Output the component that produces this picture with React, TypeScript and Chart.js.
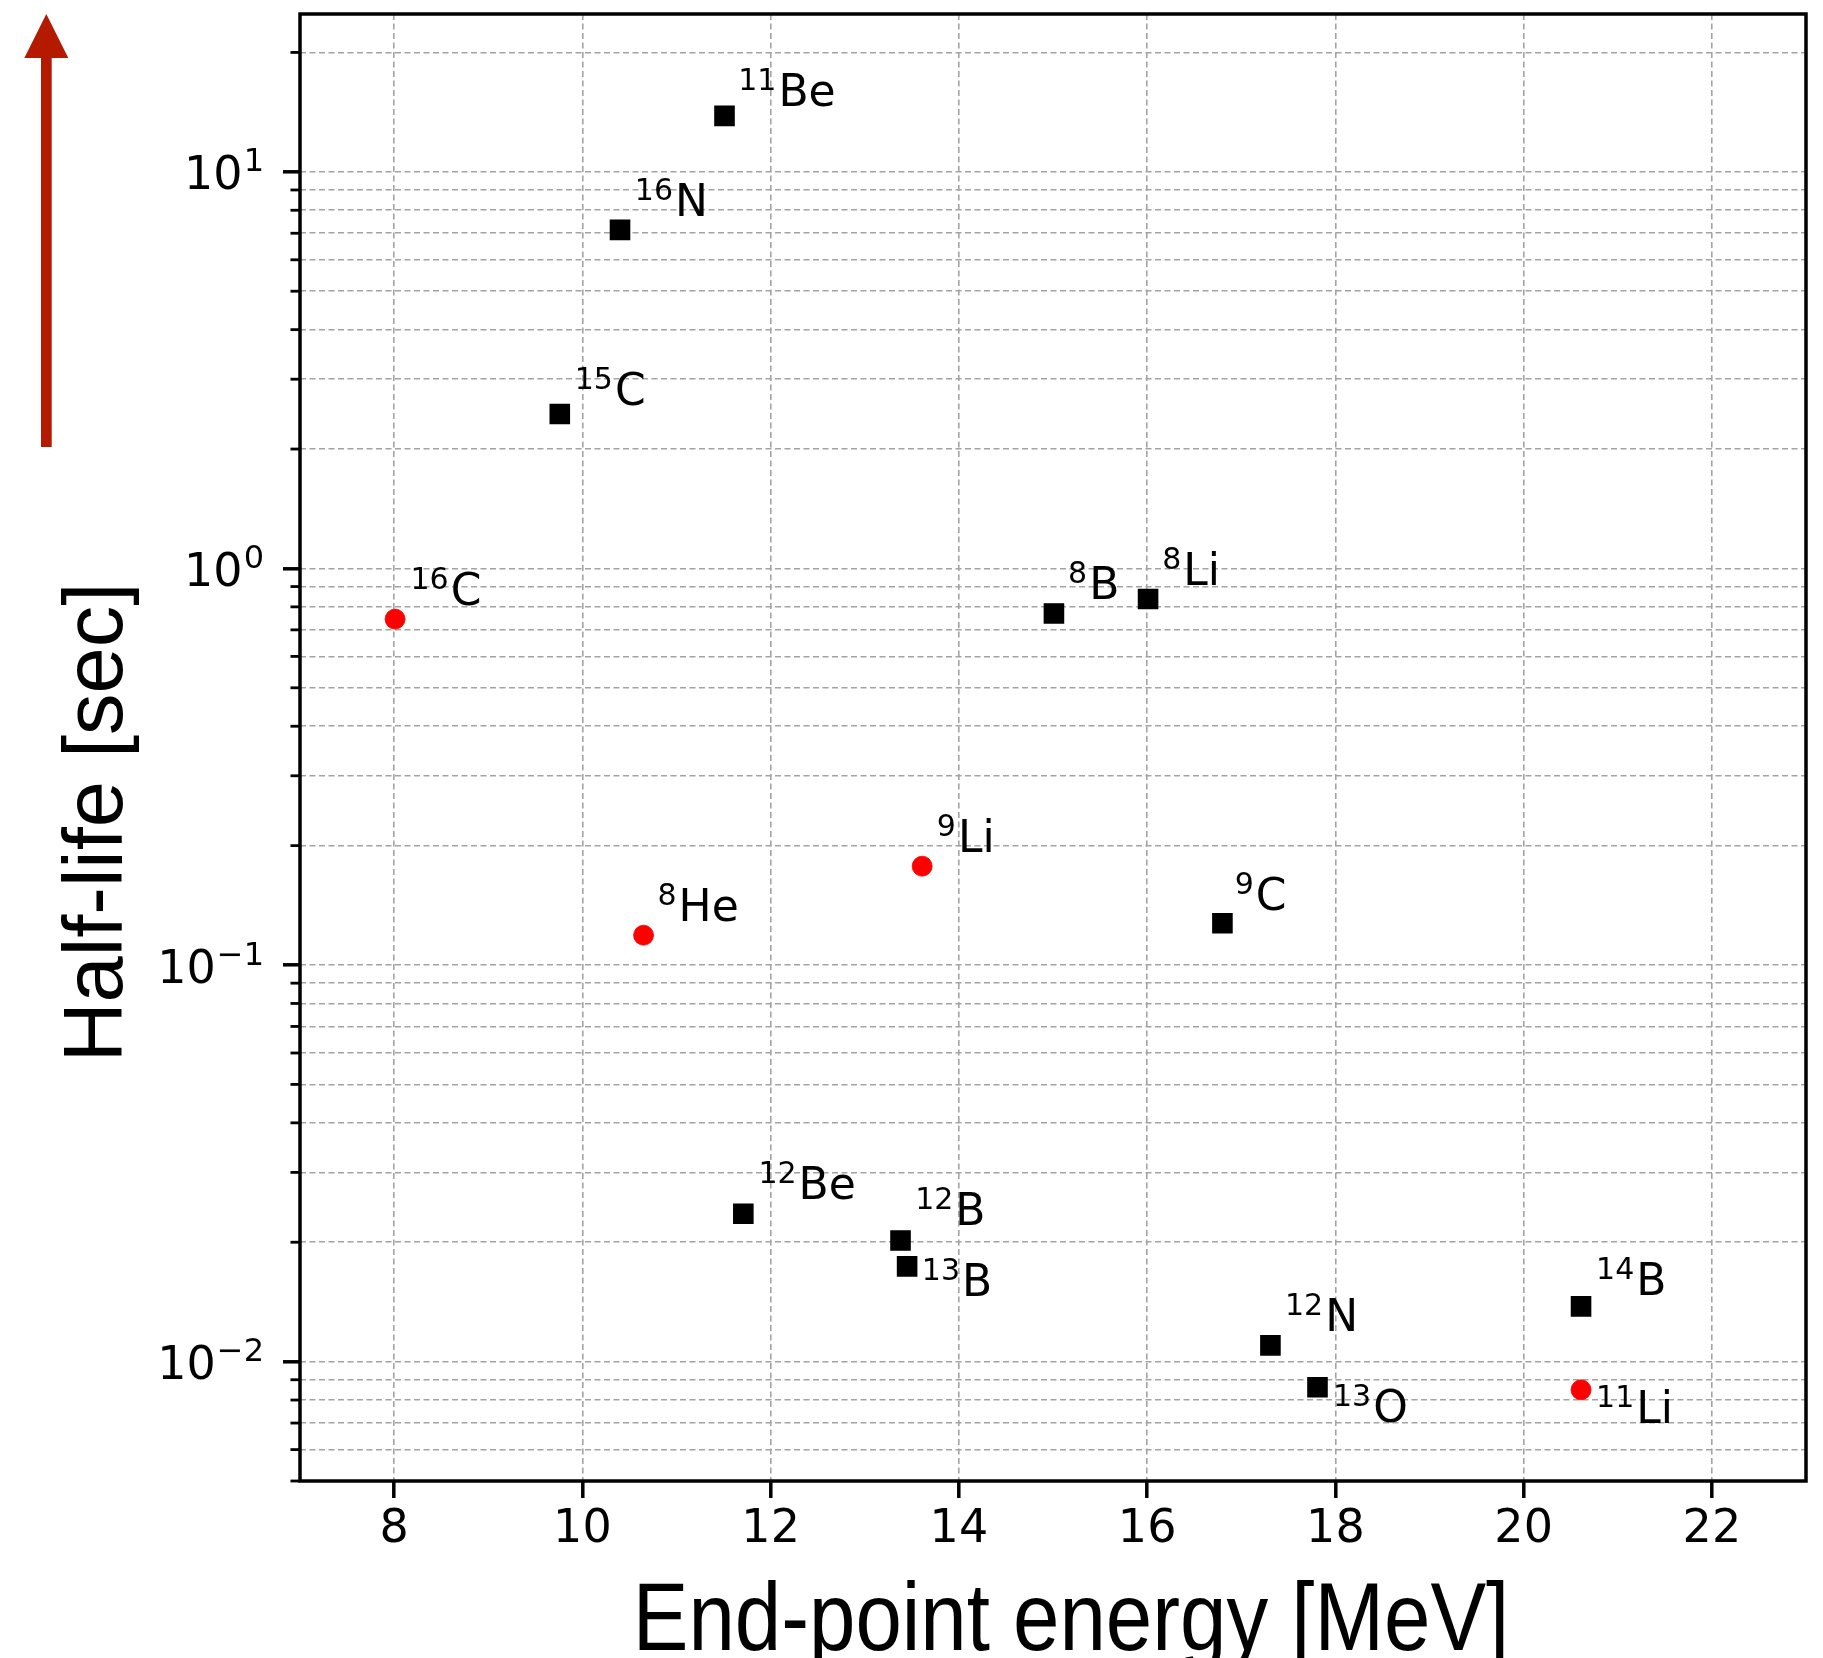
import React, { useEffect, useRef } from 'react';
import { Chart, registerables } from 'chart.js';

Chart.register(...registerables);

// ---- data ----
const MASS_NUMBERS = ['11', '16', '15', '16', '8', '8', '9', '8', '9', '12', '12', '13', '12', '13', '14', '11'];
const ELEMENTS = ['Be', 'N', 'C', 'C', 'B', 'Li', 'Li', 'He', 'C', 'Be', 'B', 'B', 'N', 'O', 'B', 'Li'];
const ENDPOINT_ENERGY_MEV = [11.51, 10.4, 9.76, 8.01, 15.01, 16.01, 13.61, 10.65, 16.8, 11.71, 13.38, 13.45, 17.31, 17.81, 20.61, 20.61];
const HALF_LIFE_SEC = [13.84, 7.14, 2.45, 0.745, 0.77, 0.837, 0.1775, 0.1189, 0.1274, 0.0236, 0.0202, 0.01738, 0.01099, 0.00862, 0.01378, 0.00849];
const MARKER_GROUP = ['square', 'square', 'square', 'circle', 'square', 'square', 'circle', 'circle', 'square', 'square', 'square', 'square', 'square', 'square', 'square', 'circle'];
// annotation anchor of each label (data coordinates: left edge, text baseline)
const LABEL_ENERGY = [11.656, 10.557, 9.919, 8.174, 15.16, 16.16, 13.766, 10.798, 16.93, 11.87, 13.536, 13.606, 17.465, 17.975, 20.77, 20.77];
const LABEL_HALF_LIFE = [14.68, 7.74, 2.59, 0.808, 0.836, 0.908, 0.1922, 0.1292, 0.138, 0.02576, 0.02215, 0.0146, 0.01192, 0.00704, 0.01469, 0.007];

const X_TICKS = [8, 10, 12, 14, 16, 18, 20, 22];
const X_MIN = 7;
const X_MAX = 23;
const Y_MIN = 0.005;
const Y_MAX = 25;
const Y_DECADES = [-3, -2, -1, 0, 1];
const Y_MULTIPLIERS = [1, 2, 3, 4, 5, 6, 7, 8, 9];

const X_TITLE = 'End-point energy [MeV]';
const Y_TITLE = 'Half-life [sec]';

const TICK_FONT = '"DejaVu Sans", sans-serif';
const TITLE_FONT = '"Liberation Sans", Arial, sans-serif';

function buildYTicks() {
  const out: { value: number; major: boolean }[] = [];
  for (const e of Y_DECADES) {
    for (const m of Y_MULTIPLIERS) {
      const v = parseFloat((m * Math.pow(10, e)).toPrecision(4));
      if (v >= Y_MIN - 1e-12 && v <= Y_MAX) out.push({ value: v, major: m === 1 });
    }
  }
  return out;
}

const decorPlugin = {
  id: 'decor',
  beforeDraw(chart: any) {
    const ctx = chart.ctx;
    ctx.save();
    ctx.fillStyle = '#ffffff';
    ctx.fillRect(0, 0, chart.width, chart.height);
    ctx.restore();
  },
  afterDatasetsDraw(chart: any) {
    const ctx = chart.ctx;
    const xs = chart.scales.x;
    const ys = chart.scales.y;
    ctx.save();
    ctx.fillStyle = '#000';
    ctx.textBaseline = 'alphabetic';
    ctx.textAlign = 'left';
    for (let i = 0; i < MASS_NUMBERS.length; i++) {
      const px = xs.getPixelForValue(LABEL_ENERGY[i]);
      const py = ys.getPixelForValue(LABEL_HALF_LIFE[i]);
      ctx.font = `30px ${TICK_FONT}`;
      ctx.fillText(MASS_NUMBERS[i], px, py - 16);
      const w = ctx.measureText(MASS_NUMBERS[i]).width;
      ctx.font = `44px ${TICK_FONT}`;
      ctx.fillText(ELEMENTS[i], px + w + 2, py);
    }
    ctx.restore();
  },
  afterDraw(chart: any) {
    const ctx = chart.ctx;
    const a = chart.chartArea;
    const ys = chart.scales.y;
    ctx.save();
    // minor y tick marks
    ctx.strokeStyle = '#000';
    ctx.lineWidth = 2.8;
    ctx.setLineDash([]);
    for (const t of ys.ticks) {
      if (t.major) continue;
      const y = ys.getPixelForValue(t.value);
      ctx.beginPath();
      ctx.moveTo(a.left, y);
      ctx.lineTo(a.left - 9.5, y);
      ctx.stroke();
    }
    // frame
    ctx.lineWidth = 3.5;
    ctx.strokeRect(a.left, a.top, a.right - a.left, a.bottom - a.top);

    // y tick labels 10^n
    ctx.fillStyle = '#000';
    ctx.textAlign = 'left';
    ctx.textBaseline = 'alphabetic';
    for (const t of ys.ticks) {
      if (!t.major) continue;
      const exp = Math.round(Math.log10(t.value));
      const sup = exp < 0 ? '\u2212' + Math.abs(exp) : String(exp);
      const y = ys.getPixelForValue(t.value);
      ctx.font = `46px ${TICK_FONT}`;
      const wBase = ctx.measureText('10').width;
      ctx.font = `32px ${TICK_FONT}`;
      const wSup = ctx.measureText(sup).width;
      const x0 = 264 - wSup - wBase - 1;
      ctx.font = `46px ${TICK_FONT}`;
      ctx.fillText('10', x0, y + 17.5);
      ctx.font = `32px ${TICK_FONT}`;
      ctx.fillText(sup, x0 + wBase + 1, y + 17.5 - 18);
    }

    // x title (horizontally condensed as in the reference)
    ctx.save();
    ctx.translate(1071, 1650);
    ctx.scale(0.86, 1);
    ctx.font = `97px ${TITLE_FONT}`;
    ctx.textAlign = 'center';
    ctx.fillText(X_TITLE, 0, 0);
    ctx.restore();

    // y title
    ctx.save();
    ctx.translate(122, 822.5);
    ctx.rotate(-Math.PI / 2);
    ctx.font = `83px ${TITLE_FONT}`;
    ctx.textAlign = 'center';
    ctx.fillText(Y_TITLE, 0, 0);
    ctx.restore();

    // red arrow
    ctx.fillStyle = '#b41a00';
    ctx.fillRect(41, 57, 10.7, 390);
    ctx.beginPath();
    ctx.moveTo(46.3, 14);
    ctx.lineTo(68.3, 58);
    ctx.lineTo(24.3, 58);
    ctx.closePath();
    ctx.fill();
    ctx.restore();
  },
};

export default function App() {
  const ref = useRef<HTMLCanvasElement | null>(null);

  useEffect(() => {
    document.body.style.margin = '0';
    const squares: { x: number; y: number }[] = [];
    const circles: { x: number; y: number }[] = [];
    for (let i = 0; i < ENDPOINT_ENERGY_MEV.length; i++) {
      const p = { x: ENDPOINT_ENERGY_MEV[i], y: HALF_LIFE_SEC[i] };
      if (MARKER_GROUP[i] === 'circle') circles.push(p);
      else squares.push(p);
    }
    const gridColor = '#a3a3a3';
    const chart = new Chart(ref.current as HTMLCanvasElement, {
      type: 'scatter',
      data: {
        datasets: [
          {
            label: 'square',
            data: squares,
            pointStyle: 'rect',
            pointRadius: 13.5,
            backgroundColor: '#000',
            borderColor: '#000',
            borderWidth: 1.5,
          },
          {
            label: 'circle',
            data: circles,
            pointStyle: 'circle',
            pointRadius: 10,
            backgroundColor: '#ff0000',
            borderColor: '#ff0000',
            borderWidth: 0.8,
          },
        ],
      },
      options: {
        responsive: false,
        animation: false,
        devicePixelRatio: 1,
        layout: { padding: { left: 0, top: 14, right: 17, bottom: 0 }, autoPadding: false },
        plugins: { legend: { display: false }, tooltip: { enabled: false } },
        scales: {
          x: {
            type: 'linear',
            position: 'bottom',
            min: X_MIN,
            max: X_MAX,
            afterBuildTicks: (s: any) => {
              s.ticks = X_TICKS.map((v) => ({ value: v }));
            },
            afterFit: (s: any) => {
              s.height = 177;
            },
            grid: {
              color: gridColor,
              lineWidth: 1.6,
              tickLength: 17,
              tickColor: '#000',
              tickWidth: 3.5,
              tickBorderDash: [],
            },
            border: { display: false, dash: [6, 3.5] },
            ticks: {
              font: { family: 'DejaVu Sans', size: 46 },
              color: '#000',
              padding: 4,
              maxRotation: 0,
              autoSkip: false,
            },
          },
          y: {
            type: 'logarithmic',
            min: Y_MIN,
            max: Y_MAX,
            afterBuildTicks: (s: any) => {
              s.ticks = buildYTicks();
            },
            afterFit: (s: any) => {
              s.width = 300;
            },
            grid: {
              color: gridColor,
              lineWidth: 1.6,
              tickLength: 17,
              tickColor: (c: any) => (c.tick && c.tick.major ? '#000' : 'rgba(0,0,0,0)'),
              tickWidth: 3.5,
              tickBorderDash: [],
            },
            border: { display: false, dash: [6, 3.5] },
            ticks: { display: false },
          },
        },
      } as any,
      plugins: [decorPlugin],
    });
    return () => chart.destroy();
  }, []);

  return (
    <div style={{ position: 'absolute', left: 0, top: 0, width: 1823, height: 1658, background: '#fff' }}>
      <canvas ref={ref} width={1823} height={1658} style={{ display: 'block', width: 1823, height: 1658 }} />
    </div>
  );
}
